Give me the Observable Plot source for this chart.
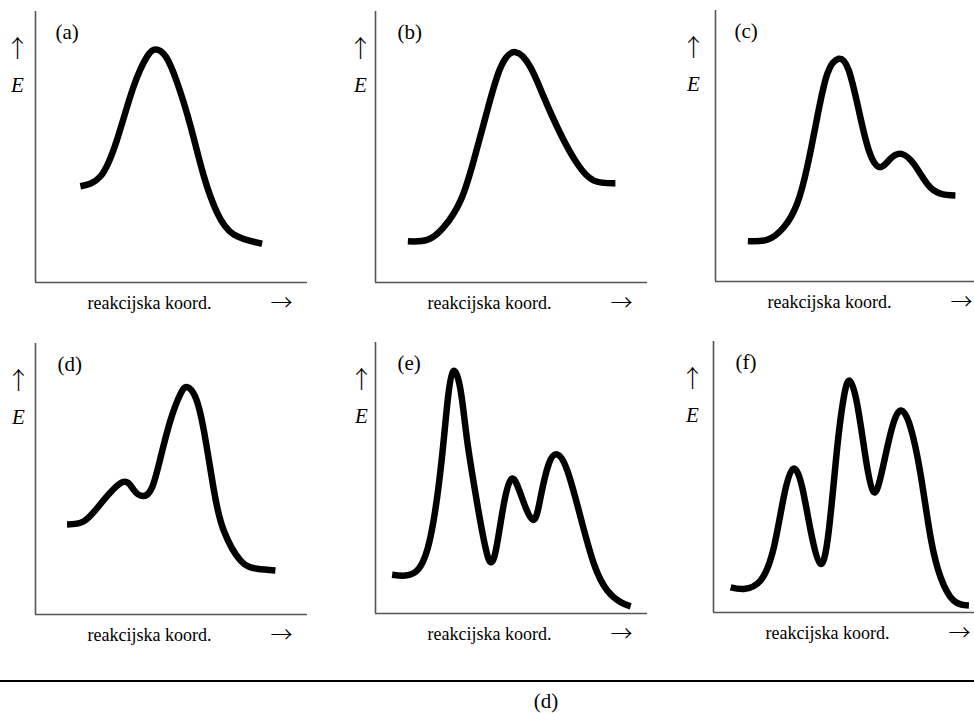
<!DOCTYPE html>
<html>
<head>
<meta charset="utf-8">
<script src="https://cdn.jsdelivr.net/npm/d3@7"></script>
<script src="https://cdn.jsdelivr.net/npm/@observablehq/plot@0.6"></script>
<style>
  html, body { margin: 0; padding: 0; background: #ffffff; overflow: hidden; }
  #wrap { position: relative; width: 974px; height: 713px; overflow: hidden; background: #ffffff;
          font-family: "Liberation Serif", "Times New Roman", "DejaVu Serif", serif; }
  .panel { position: absolute; }
  #rule { position: absolute; left: 0; top: 680px; width: 974px; height: 2px; background: #000; }
  #cap { position: absolute; left: 546px; top: 701px; transform: translate(-50%, -50%);
         font-size: 21px; color: #000; line-height: 1; }
</style>
</head>
<body>
<div id="wrap"><div id="rule"></div><div id="cap">(d)</div></div>
<script>
// Panel labels and axis texts
const panelLabels = ["(a)", "(b)", "(c)", "(d)", "(e)", "(f)"];
const yAxisLabel = "E";
const yArrow = "↑";
const xAxisLabel = "reakcijska koord.";
const xArrow = "→";

// Reaction coordinate (x) and energy (E) (arbitrary units 0–10)
const aX = [1.65, 2.39, 3.00, 3.61, 4.11, 4.41, 4.78, 5.21, 5.70, 6.19, 6.68, 7.29, 8.33];
const aE = [3.55, 3.92, 5.28, 7.24, 8.35, 8.60, 8.35, 7.37, 5.77, 3.92, 2.57, 1.77, 1.43];

const bX = [1.19, 1.90, 2.51, 3.13, 3.61, 4.11, 4.60, 5.15, 5.70, 6.19, 6.80, 7.42, 8.03, 8.82];
const bE = [1.52, 1.57, 2.04, 3.03, 4.50, 6.35, 7.94, 8.50, 7.94, 6.84, 5.49, 4.38, 3.76, 3.66];

const cX = [1.19, 1.90, 2.51, 3.00, 3.37, 3.74, 4.11, 4.53, 4.90, 5.27, 5.64, 6.04, 6.43, 6.83, 7.29, 7.78, 8.27, 8.82];
const cE = [1.49, 1.54, 2.00, 2.87, 4.22, 6.06, 7.66, 8.22, 7.79, 6.31, 4.83, 4.22, 4.53, 4.71, 4.34, 3.61, 3.24, 3.17];

const dX = [1.16, 1.78, 2.39, 3.19, 3.61, 3.96, 4.29, 4.60, 4.96, 5.33, 5.58, 5.88, 6.19, 6.56, 6.92, 7.54, 8.15, 8.82];
const dE = [3.32, 3.44, 4.08, 4.88, 4.60, 4.37, 4.70, 5.80, 7.16, 8.14, 8.39, 8.02, 6.79, 4.58, 3.10, 1.99, 1.69, 1.62];

const eX = [0.61, 1.10, 1.59, 2.02, 2.39, 2.64, 2.86, 3.13, 3.37, 3.74, 4.17, 4.47, 4.72, 5.00, 5.33, 5.78, 6.07, 6.37, 6.68, 7.05, 7.54, 8.03, 8.52, 9.01, 9.38];
const eE = [1.43, 1.40, 1.65, 2.82, 5.28, 7.74, 8.94, 8.23, 6.38, 4.05, 1.98, 2.57, 4.05, 4.97, 4.42, 3.46, 4.29, 5.52, 5.87, 5.28, 3.55, 1.83, 0.85, 0.42, 0.26];

const fX = [0.63, 1.11, 1.73, 2.22, 2.58, 2.93, 3.26, 3.57, 3.93, 4.24, 4.55, 4.79, 5.00, 5.28, 5.59, 5.89, 6.20, 6.57, 6.90, 7.24, 7.61, 7.98, 8.35, 8.83, 9.39];
const fE = [0.93, 0.87, 1.18, 2.41, 4.25, 5.30, 4.62, 3.03, 1.80, 3.03, 6.10, 7.94, 8.56, 7.70, 5.73, 4.44, 5.24, 6.84, 7.45, 6.84, 5.12, 2.78, 1.30, 0.44, 0.26];

const series = [[aX, aE], [bX, bE], [cX, cE], [dX, dE], [eX, eE], [fX, fE]];

// Layout (pixels): axis origin x, axis bottom y, x of the ↑/E column, label offset
const layout = [
  {ax: 35,  ab: 282, lx: 17,  ldx: 20},
  {ax: 375, ab: 282, lx: 360, ldx: 22},
  {ax: 715, ab: 281, lx: 693, ldx: 19},
  {ax: 35,  ab: 614, lx: 18,  ldx: 22},
  {ax: 375, ab: 613, lx: 361, ldx: 22},
  {ax: 713, ab: 612, lx: 692, ldx: 22}
];

const FW = 272, FH = 271, ML = 40, MT = 12, MR = 20, MB = 47;
const font = '"Liberation Serif", "Times New Roman", "DejaVu Serif", serif';
const arrowFont = '"Noto Sans CJK JP", "DejaVu Serif", serif';
const wrap = document.getElementById("wrap");

series.forEach(([xs, es], i) => {
  const L = layout[i];
  const data = xs.map((x, k) => ({x, e: es[k]}));
  const chart = Plot.plot({
    width: ML + FW + MR,
    height: MT + FH + MB,
    marginLeft: ML, marginTop: MT, marginRight: MR, marginBottom: MB,
    x: {domain: [0, 10], axis: null},
    y: {domain: [0, 10], axis: null},
    style: {background: "transparent", fontFamily: font, overflow: "visible", color: "#000"},
    marks: [
      Plot.ruleX([0], {stroke: "#555", strokeWidth: 1.6}),
      Plot.ruleY([0], {stroke: "#555", strokeWidth: 1.6}),
      Plot.line(data, {x: "x", y: "e", curve: "natural", stroke: "#000", strokeWidth: 6.5, strokeLinejoin: "round", strokeLinecap: "butt"}),
      Plot.text([panelLabels[i]], {frameAnchor: "top-left", lineAnchor: "middle", textAnchor: "start", dx: L.ldx, dy: 21, fontSize: 21, fill: "#000"}),
      Plot.text([yArrow], {frameAnchor: "top-left", lineAnchor: "middle", textAnchor: "middle", dx: L.lx - L.ax, dy: 38, fontSize: 24, fontFamily: arrowFont, fontWeight: 300, fill: "#000"}),
      Plot.text([yAxisLabel], {frameAnchor: "top-left", lineAnchor: "middle", textAnchor: "middle", dx: L.lx - L.ax, dy: 74, fontSize: 21, fontStyle: "italic", fill: "#000"}),
      Plot.text([xAxisLabel], {frameAnchor: "bottom-left", lineAnchor: "middle", textAnchor: "start", dx: 52, dy: 21, fontSize: 18, fill: "#000"}),
      Plot.text([xArrow], {frameAnchor: "bottom-left", lineAnchor: "middle", textAnchor: "middle", dx: 246, dy: 20, fontSize: 22, fontFamily: arrowFont, fontWeight: 300, fill: "#000"})
    ]
  });
  chart.classList.add("panel");
  chart.style.left = (L.ax - ML) + "px";
  chart.style.top = (L.ab - FH - MT) + "px";
  wrap.appendChild(chart);
});
</script>
</body>
</html>
